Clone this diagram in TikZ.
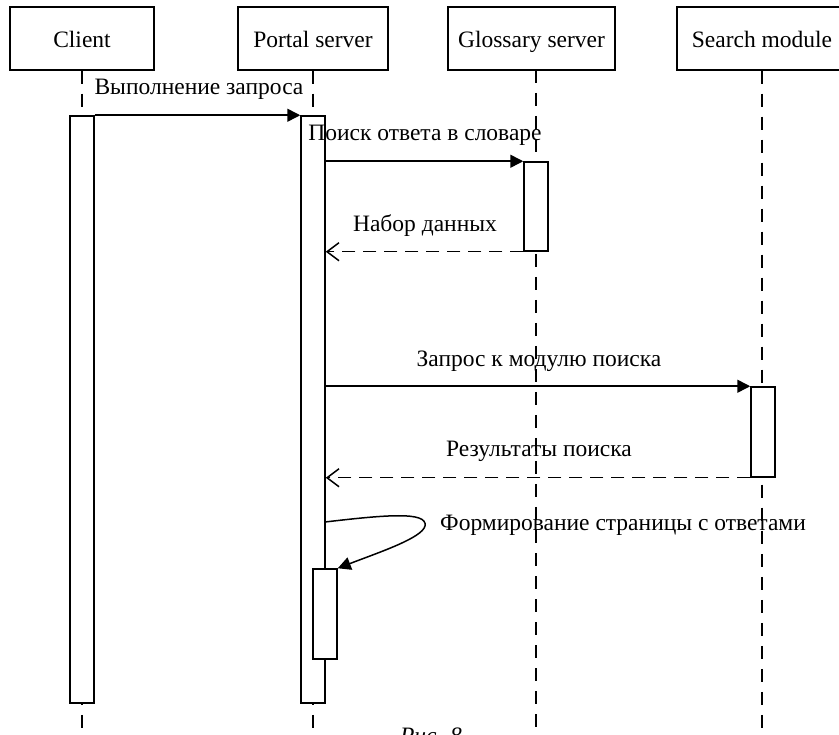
\documentclass[tikz,border=0pt]{standalone}
\usepackage{fontspec}
\setmainfont{Liberation Serif}
\usetikzlibrary{arrows.meta}
\begin{document}
\begin{tikzpicture}[x=1pt,y=-1pt,
  txt/.style={font=\fontsize{23.5}{28}\selectfont, inner sep=0pt},
  head/.style={txt, draw, line width=1.5pt, minimum height=63pt,
    text height=20pt, text depth=1pt},
  life/.style={line width=1.5pt, dash pattern=on 13pt off 10pt},
  act/.style={draw, fill=white, line width=1.5pt, minimum width=24pt, inner sep=0pt},
  call/.style={line width=1.5pt, -{Triangle[length=13pt,width=13pt]}},
  reply/.style={line width=1.5pt, dash pattern=on 13pt off 8pt,
    -{Straight Barb[length=12pt,width=18pt,line width=1.5pt]}}
]
\useasboundingbox (0,0) rectangle (839,735);

% participants
\node[head, minimum width=144pt] (client)   at (82,38.5)    {Client};
\node[head, minimum width=150pt] (portal)   at (313,38.5)   {Portal server};
\node[head, minimum width=167pt] (glossary) at (531.5,38.5) {Glossary server};
\node[head, minimum width=170pt] (search)   at (762,38.5)   {Search module};

% lifelines
\coordinate (lgl) at (536,70);
\draw[life] (client.south) -- ++(0,670);
\draw[life] (portal.south) -- ++(0,670);
\draw[life] (lgl) -- ++(0,670);
\draw[life] (search.south) -- ++(0,670);

% activation bars
\node[act, minimum height=587pt] (aclient) at (82,409.5)  {};
\node[act, minimum height=587pt] (aportal) at (313,409.5) {};
\node[act, minimum height=89pt]  (aglos)   at (536,206.5) {};
\node[act, minimum height=90pt]  (asearch) at (763,432)   {};
\node[act, minimum height=90pt]  (aself)   at (325,614)   {};

% messages
\draw[call] (aclient.north east) -- (aportal.north west);
\node[txt] (m1) at (199,89) {Выполнение запроса};

\draw[call] (aportal.east |- aglos.north) -- (aglos.north west);
\node[txt] (m2) at (425,135) {Поиск ответа в словаре};

\draw[reply] (aglos.south west) -- (aportal.east |- aglos.south);
\node[txt] (m3) at (425,226) {Набор данных};

\draw[call] (aportal.east |- asearch.north) -- (asearch.north west);
\node[txt] (m4) at (539,361) {Запрос к модулю поиска};

\draw[reply] (asearch.south west) -- (aportal.east |- asearch.south);
\node[txt] (m5) at (539,451) {Результаты поиска};

% self call
\coordinate (selfstart) at (325,522);
\draw[call] (selfstart) .. controls (385,515) and (428,511) .. (425,526)
  .. controls (422,538) and (380,552) .. (aself.north east);
\node[txt, anchor=west] (m6) at (440,525) {Формирование страницы с ответами};

% caption
\node[txt, font=\fontsize{23.5}{28}\selectfont\itshape, anchor=base] (cap) at (431,743) {Рис. 8};
\end{tikzpicture}
\end{document}
